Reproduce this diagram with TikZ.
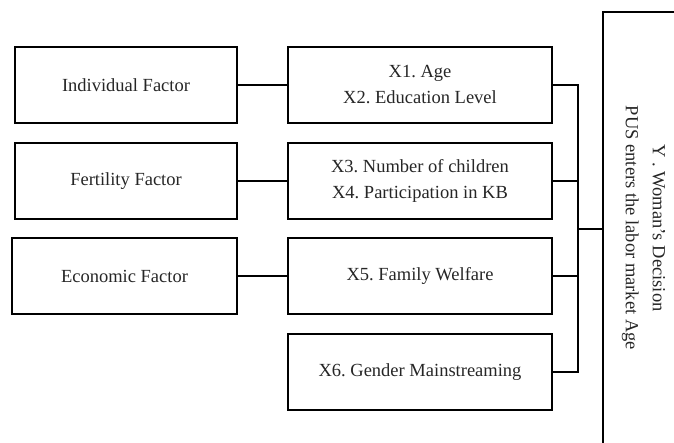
\documentclass[tikz,border=0pt]{standalone}
\usepackage{fontspec}
\setmainfont{Liberation Serif}
\frenchspacing
\begin{document}
\begin{tikzpicture}[x=1pt,y=-1pt,
  box/.style={draw,line width=1.2pt,inner sep=0pt,align=center,font=\fontsize{18.5}{26}\selectfont,text=black!85},
  wire/.style={line width=1.2pt}]
\useasboundingbox (0,0) rectangle (674,443);
\clip (0,0) rectangle (674,443);
% left boxes
\node[box,minimum width=222pt,minimum height=76pt] (f1) at (126,85) {Individual Factor};
\node[box,minimum width=222pt,minimum height=76pt] (f2) at (126,181) {Fertility Factor};
\node[box,minimum width=225pt,minimum height=76pt] (f3) at (124.5,276) {Economic Factor};
% middle boxes
\node[box,minimum width=264pt,minimum height=76pt] (m1) at (420,85) {X1. Age\\X2. Education Level};
\node[box,minimum width=264pt,minimum height=76pt] (m2) at (420,181) {X3. Number of children\\X4. Participation in KB};
\node[box,minimum width=264pt,minimum height=76pt] (m3) at (420,276) {X5. Family Welfare};
\node[box,minimum width=264pt,minimum height=76pt] (m4) at (420,372) {X6. Gender Mainstreaming};
% big box
\draw[wire] (690,12) -- (603,12) -- (603,460);
\coordinate (ybox) at (603,229);
\node[rotate=-90,align=center,inner sep=0pt,font=\fontsize{18.5}{27}\selectfont,text=black!85] (y) at (643.5,228) {Y . Woman's Decision\\PUS enters the labor market Age};
% connectors
\draw[wire] (f1.east) -- (m1.west);
\draw[wire] (f2.east) -- (m2.west);
\draw[wire] (f3.east) -- (m3.west);
\coordinate (bt) at (578,85);
\coordinate (bb) at (578,372);
\coordinate (bm) at (578,229);
\draw[wire] (m1.east) -- (bt) -- (bb) -- (m4.east);
\draw[wire] (m2.east) -- (578,181);
\draw[wire] (m3.east) -- (578,276);
\draw[wire] (bm) -- (ybox);
\end{tikzpicture}
\end{document}
